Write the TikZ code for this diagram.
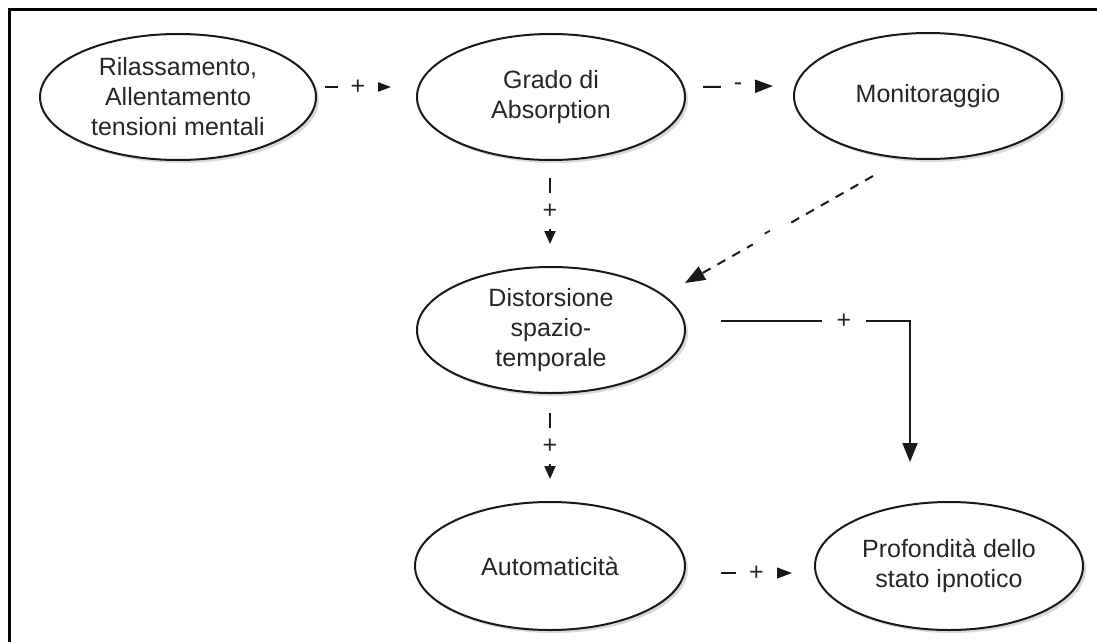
\documentclass[tikz,border=0pt]{standalone}
\usepackage{fontspec}
\setmainfont{Liberation Sans}
\usetikzlibrary{shapes.geometric,arrows.meta,calc,shadows}
\begin{document}
\begin{tikzpicture}[x=1pt,y=-1pt,
  stage/.style={ellipse, draw=black!90, line width=2pt, fill=white,
    minimum width=268pt, minimum height=126pt, inner sep=0pt, align=center,
    font=\fontsize{25}{30}\selectfont, text=black!85,
    drop shadow={opacity=0.3, shadow xshift=3pt, shadow yshift=-3pt}},
  conn/.style={line width=2pt, draw=black!90, -{Triangle[length=18pt,width=13pt]}},
  connsmall/.style={line width=2pt, draw=black!90, -{Triangle[length=13pt,width=11pt]}},
  connbig/.style={line width=2pt, draw=black!90, -{Triangle[length=19pt,width=15pt]}},
  negline/.style={line width=2pt, draw=black!90, dash pattern=on 9pt off 8pt, -{Triangle[length=20pt,width=15pt]}},
  hl/.style={fill=white, inner xsep=13pt, inner ysep=2pt, font=\fontsize{25}{25}\selectfont, text=black!85},
  vl/.style={fill=white, inner xsep=2pt, inner ysep=11pt, font=\fontsize{25}{25}\selectfont, text=black!85},
  sl/.style={fill=white, inner xsep=15pt, inner ysep=3pt, font=\fontsize{25}{25}\selectfont, text=black!85}
]
\useasboundingbox (0,0) rectangle (1097,642);
\draw[line width=3pt] (1097,10) -- (9,10) -- (9,642);

\node[stage, minimum width=276pt] (r) at (178,97) {Rilassamento,\\Allentamento\\tensioni mentali};
\node[stage] (g) at (551,97) {Grado di\\Absorption};
\node[stage] (m) at (928,96) {Monitoraggio};
\node[stage] (d) at (551,330) {Distorsione\\spazio-\\temporale};
\node[stage, minimum width=270pt, minimum height=128pt] (a) at (550,566) {Automaticità};
\node[stage, minimum height=128pt] (p) at (949,566) {Profondità dello\\stato ipnotico};

\draw[conn] ($(r.east)+(8,-10)$) -- node[hl]{+} ($(g.west)+(-25,-10)$);
\draw[conn] ($(g.east)+(17,-10)$) -- node[hl]{-} ($(m.west)+(-20,-10)$);
\draw[negline] ($(m.center)+(-55,80)$) -- node[pos=0.55, sloped, sl]{-} ($(d.center)+(134,-47)$);
\draw[connsmall] ($(g.south)+(-1,17)$) -- node[vl]{+} ($(d.north)+(-1,-22)$);
\draw[connsmall] ($(d.south)+(-1,19)$) -- node[vl]{+} ($(a.north)+(0,-22)$);
\draw[conn] ($(a.east)+(35,7)$) -- node[hl]{+} ($(p.west)+(-22,7)$);
\coordinate (ds) at ($(d.east)+(35,-9)$);
\coordinate (pc) at ($(p.north)+(-39,-39)$);
\draw[connbig] (ds) -- node[pos=0.65, hl, inner xsep=15pt]{+} (ds -| pc) -- (pc);
\end{tikzpicture}
\end{document}
